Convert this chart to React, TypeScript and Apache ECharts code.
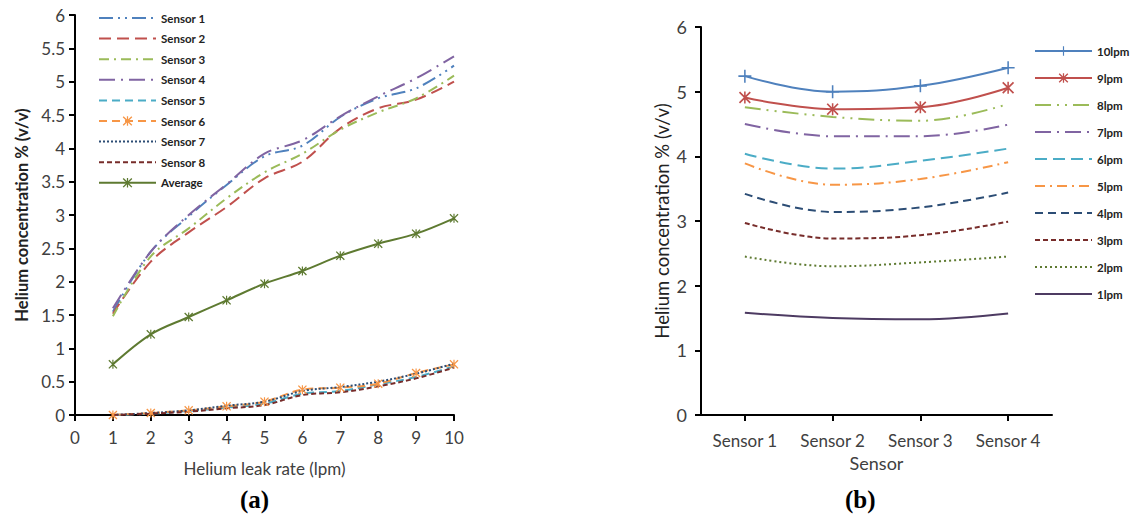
import React, { useEffect, useRef } from "react";
import * as echarts from "echarts";

// ---------- Data: chart (a) ----------
const leakRates = [1, 2, 3, 4, 5, 6, 7, 8, 9, 10];
const sensor1 = [1.55, 2.45, 2.98, 3.45, 3.88, 4.04, 4.47, 4.75, 4.9, 5.24];
const sensor2 = [1.52, 2.3, 2.74, 3.12, 3.55, 3.8, 4.3, 4.6, 4.73, 5.0];
const sensor3 = [1.48, 2.38, 2.8, 3.25, 3.64, 3.92, 4.28, 4.54, 4.75, 5.09];
const sensor4 = [1.6, 2.45, 3.0, 3.46, 3.92, 4.12, 4.48, 4.78, 5.05, 5.38];
const sensor5 = [0.0, 0.02, 0.06, 0.11, 0.17, 0.32, 0.36, 0.46, 0.57, 0.73];
const sensor6 = [0.0, 0.03, 0.07, 0.13, 0.2, 0.38, 0.41, 0.47, 0.63, 0.76];
const sensor7 = [0.0, 0.03, 0.07, 0.14, 0.2, 0.36, 0.42, 0.5, 0.62, 0.77];
const sensor8 = [0.0, 0.02, 0.05, 0.1, 0.15, 0.3, 0.34, 0.43, 0.55, 0.71];
const average = [0.76, 1.21, 1.47, 1.72, 1.97, 2.16, 2.39, 2.57, 2.72, 2.95];
const leftYTicks = { min: 0, max: 6, interval: 0.5 };
const leftXTicks = { min: 0, max: 10, interval: 1 };

// ---------- Data: chart (b) ----------
const sensorNames = ["Sensor 1", "Sensor 2", "Sensor 3", "Sensor 4"];
const lpm10 = [5.24, 5.0, 5.09, 5.37];
const lpm9 = [4.91, 4.73, 4.76, 5.06];
const lpm8 = [4.76, 4.61, 4.55, 4.81];
const lpm7 = [4.5, 4.31, 4.31, 4.49];
const lpm6 = [4.04, 3.81, 3.93, 4.12];
const lpm5 = [3.89, 3.56, 3.65, 3.91];
const lpm4 = [3.42, 3.14, 3.21, 3.44];
const lpm3 = [2.97, 2.73, 2.78, 2.99];
const lpm2 = [2.45, 2.3, 2.36, 2.45];
const lpm1 = [1.58, 1.5, 1.48, 1.57];
const rightYTicks = { min: 0, max: 6, interval: 1 };

// marker shapes
const STAR =
  "path://M0,1 L1,0 L5,4 L9,0 L10,1 L6,5 L10,9 L9,10 L5,6 L1,10 L0,9 L4,5 Z M4.35,0 H5.65 V10 H4.35 Z";
const PLUS = "path://M4.4,0 H5.6 V4.4 H10 V5.6 H5.6 V10 H4.4 V5.6 H0 V4.4 H4.4 Z";

const FONT = "Lato";

function leftSeries(name: string, values: number[], color: string, dash: any, symbol?: string) {
  return {
    name,
    type: "line",
    xAxisIndex: 0,
    yAxisIndex: 0,
    data: leakRates.map((x, i) => [x, values[i]]),
    smooth: 0.35,
    symbol: symbol || "none",
    symbolSize: 9,
    showSymbol: !!symbol,
    lineStyle: { color, width: 2, type: dash },
    itemStyle: { color, opacity: symbol ? 1 : 0 },
    z: 3,
  };
}

function rightSeries(name: string, values: number[], color: string, dash: any, symbol?: string, size = 11) {
  return {
    name,
    type: "line",
    xAxisIndex: 1,
    yAxisIndex: 1,
    data: values,
    smooth: 0.4,
    symbol: symbol || "none",
    symbolSize: size,
    showSymbol: !!symbol,
    lineStyle: { color, width: 2, type: dash },
    itemStyle: { color, opacity: symbol ? 1 : 0 },
    z: 3,
  };
}

export default function App() {
  const ref = useRef<HTMLDivElement>(null);

  useEffect(() => {
    document.body.style.margin = "0";
    const chart = echarts.init(ref.current!, null, { renderer: "svg" });

    const axisLine = { show: true, lineStyle: { color: "#000", width: 2 } };
    const axisTick = { show: true, length: 6, lineStyle: { color: "#000", width: 2 } };

    const series = [
      leftSeries("Sensor 1", sensor1, "#4F81BD", [14, 5, 2, 5, 2, 5]),
      leftSeries("Sensor 2", sensor2, "#C0504D", [12, 6]),
      leftSeries("Sensor 3", sensor3, "#9BBB59", [10, 5, 2, 5]),
      leftSeries("Sensor 4", sensor4, "#8064A2", [16, 6, 2, 6]),
      leftSeries("Sensor 5", sensor5, "#4BACC6", [8, 5]),
      leftSeries("Sensor 6", sensor6, "#F79646", [8, 5], STAR),
      leftSeries("Sensor 7", sensor7, "#2C4D75", [2, 2]),
      leftSeries("Sensor 8", sensor8, "#772C2A", [5, 3]),
      leftSeries("Average", average, "#5E7A31", "solid", STAR),
      rightSeries("10lpm", lpm10, "#4F81BD", "solid", PLUS, 13),
      rightSeries("9lpm", lpm9, "#C0504D", "solid", STAR, 12),
      rightSeries("8lpm", lpm8, "#9BBB59", [16, 6, 2, 6, 2, 6]),
      rightSeries("7lpm", lpm7, "#8064A2", [16, 6, 2, 6]),
      rightSeries("6lpm", lpm6, "#4BACC6", [12, 6]),
      rightSeries("5lpm", lpm5, "#F79646", [10, 5, 2, 5]),
      rightSeries("4lpm", lpm4, "#2C4D75", [8, 5]),
      rightSeries("3lpm", lpm3, "#772C2A", [5, 3]),
      rightSeries("2lpm", lpm2, "#5E7A31", [2, 3]),
      rightSeries("1lpm", lpm1, "#4D3B62", "solid"),
    ];

    const legendText = { fontFamily: FONT, fontSize: 11.5, fontWeight: "bold", color: "#222" };

    chart.setOption({
      animation: false,
      backgroundColor: "#fff",
      textStyle: { fontFamily: FONT },
      grid: [
        { left: 75, top: 15, width: 379, height: 400, containLabel: false },
        { left: 701, top: 27, width: 351, height: 388, containLabel: false },
      ],
      legend: [
        {
          orient: "vertical",
          left: 93,
          top: 7,
          itemWidth: 57,
          itemHeight: 12,
          itemGap: 8.6,
          textStyle: legendText,
          data: ["Sensor 1", "Sensor 2", "Sensor 3", "Sensor 4", "Sensor 5", "Sensor 6", "Sensor 7", "Sensor 8", "Average"],
        },
        {
          orient: "vertical",
          left: 1029,
          top: 40,
          itemWidth: 57,
          itemHeight: 12,
          itemGap: 15,
          textStyle: legendText,
          data: ["10lpm", "9lpm", "8lpm", "7lpm", "6lpm", "5lpm", "4lpm", "3lpm", "2lpm", "1lpm"],
        },
      ],
      xAxis: [
        {
          type: "value",
          gridIndex: 0,
          min: leftXTicks.min,
          max: leftXTicks.max,
          interval: leftXTicks.interval,
          axisLine,
          axisTick,
          splitLine: { show: false },
          axisLabel: { fontSize: 17, color: "#404040", margin: 14, fontFamily: FONT },
          name: "Helium leak rate (lpm)",
          nameLocation: "middle",
          nameGap: 45,
          nameTextStyle: { fontSize: 17, color: "#404040", fontFamily: FONT },
        },
        {
          type: "category",
          gridIndex: 1,
          data: sensorNames,
          boundaryGap: true,
          axisLine,
          axisTick: { ...axisTick, alignWithLabel: true },
          axisLabel: { fontSize: 17, color: "#404040", margin: 17, fontFamily: FONT },
          name: "Sensor",
          nameLocation: "middle",
          nameGap: 36,
          nameTextStyle: { fontSize: 18, color: "#404040", fontFamily: FONT },
        },
      ],
      yAxis: [
        {
          type: "value",
          gridIndex: 0,
          min: leftYTicks.min,
          max: leftYTicks.max,
          interval: leftYTicks.interval,
          axisLine,
          axisTick,
          splitLine: { show: false },
          axisLabel: { fontSize: 17, color: "#404040", margin: 10, fontFamily: FONT },
          name: "Helium concentration % (v/v)",
          nameLocation: "middle",
          nameGap: 45,
          nameTextStyle: { fontSize: 16.5, color: "#222", fontWeight: "bold", fontFamily: FONT },
        },
        {
          type: "value",
          gridIndex: 1,
          min: rightYTicks.min,
          max: rightYTicks.max,
          interval: rightYTicks.interval,
          axisLine,
          axisTick,
          splitLine: { show: false },
          axisLabel: { fontSize: 18, color: "#404040", margin: 14, fontFamily: FONT },
          name: "Helium concentration % (v/v)",
          nameLocation: "middle",
          nameGap: 30,
          nameTextStyle: { fontSize: 18.5, color: "#222", fontFamily: FONT },
        },
      ],
      graphic: [
        {
          type: "text",
          left: 240,
          top: 487,
          style: { text: "(a)", font: 'bold 25px "Liberation Serif"', fill: "#000" },
        },
        {
          type: "text",
          left: 845,
          top: 487,
          style: { text: "(b)", font: 'bold 25px "Liberation Serif"', fill: "#000" },
        },
      ],
      series,
    });

    return () => chart.dispose();
  }, []);

  return <div ref={ref} style={{ width: 1131, height: 516 }} />;
}
